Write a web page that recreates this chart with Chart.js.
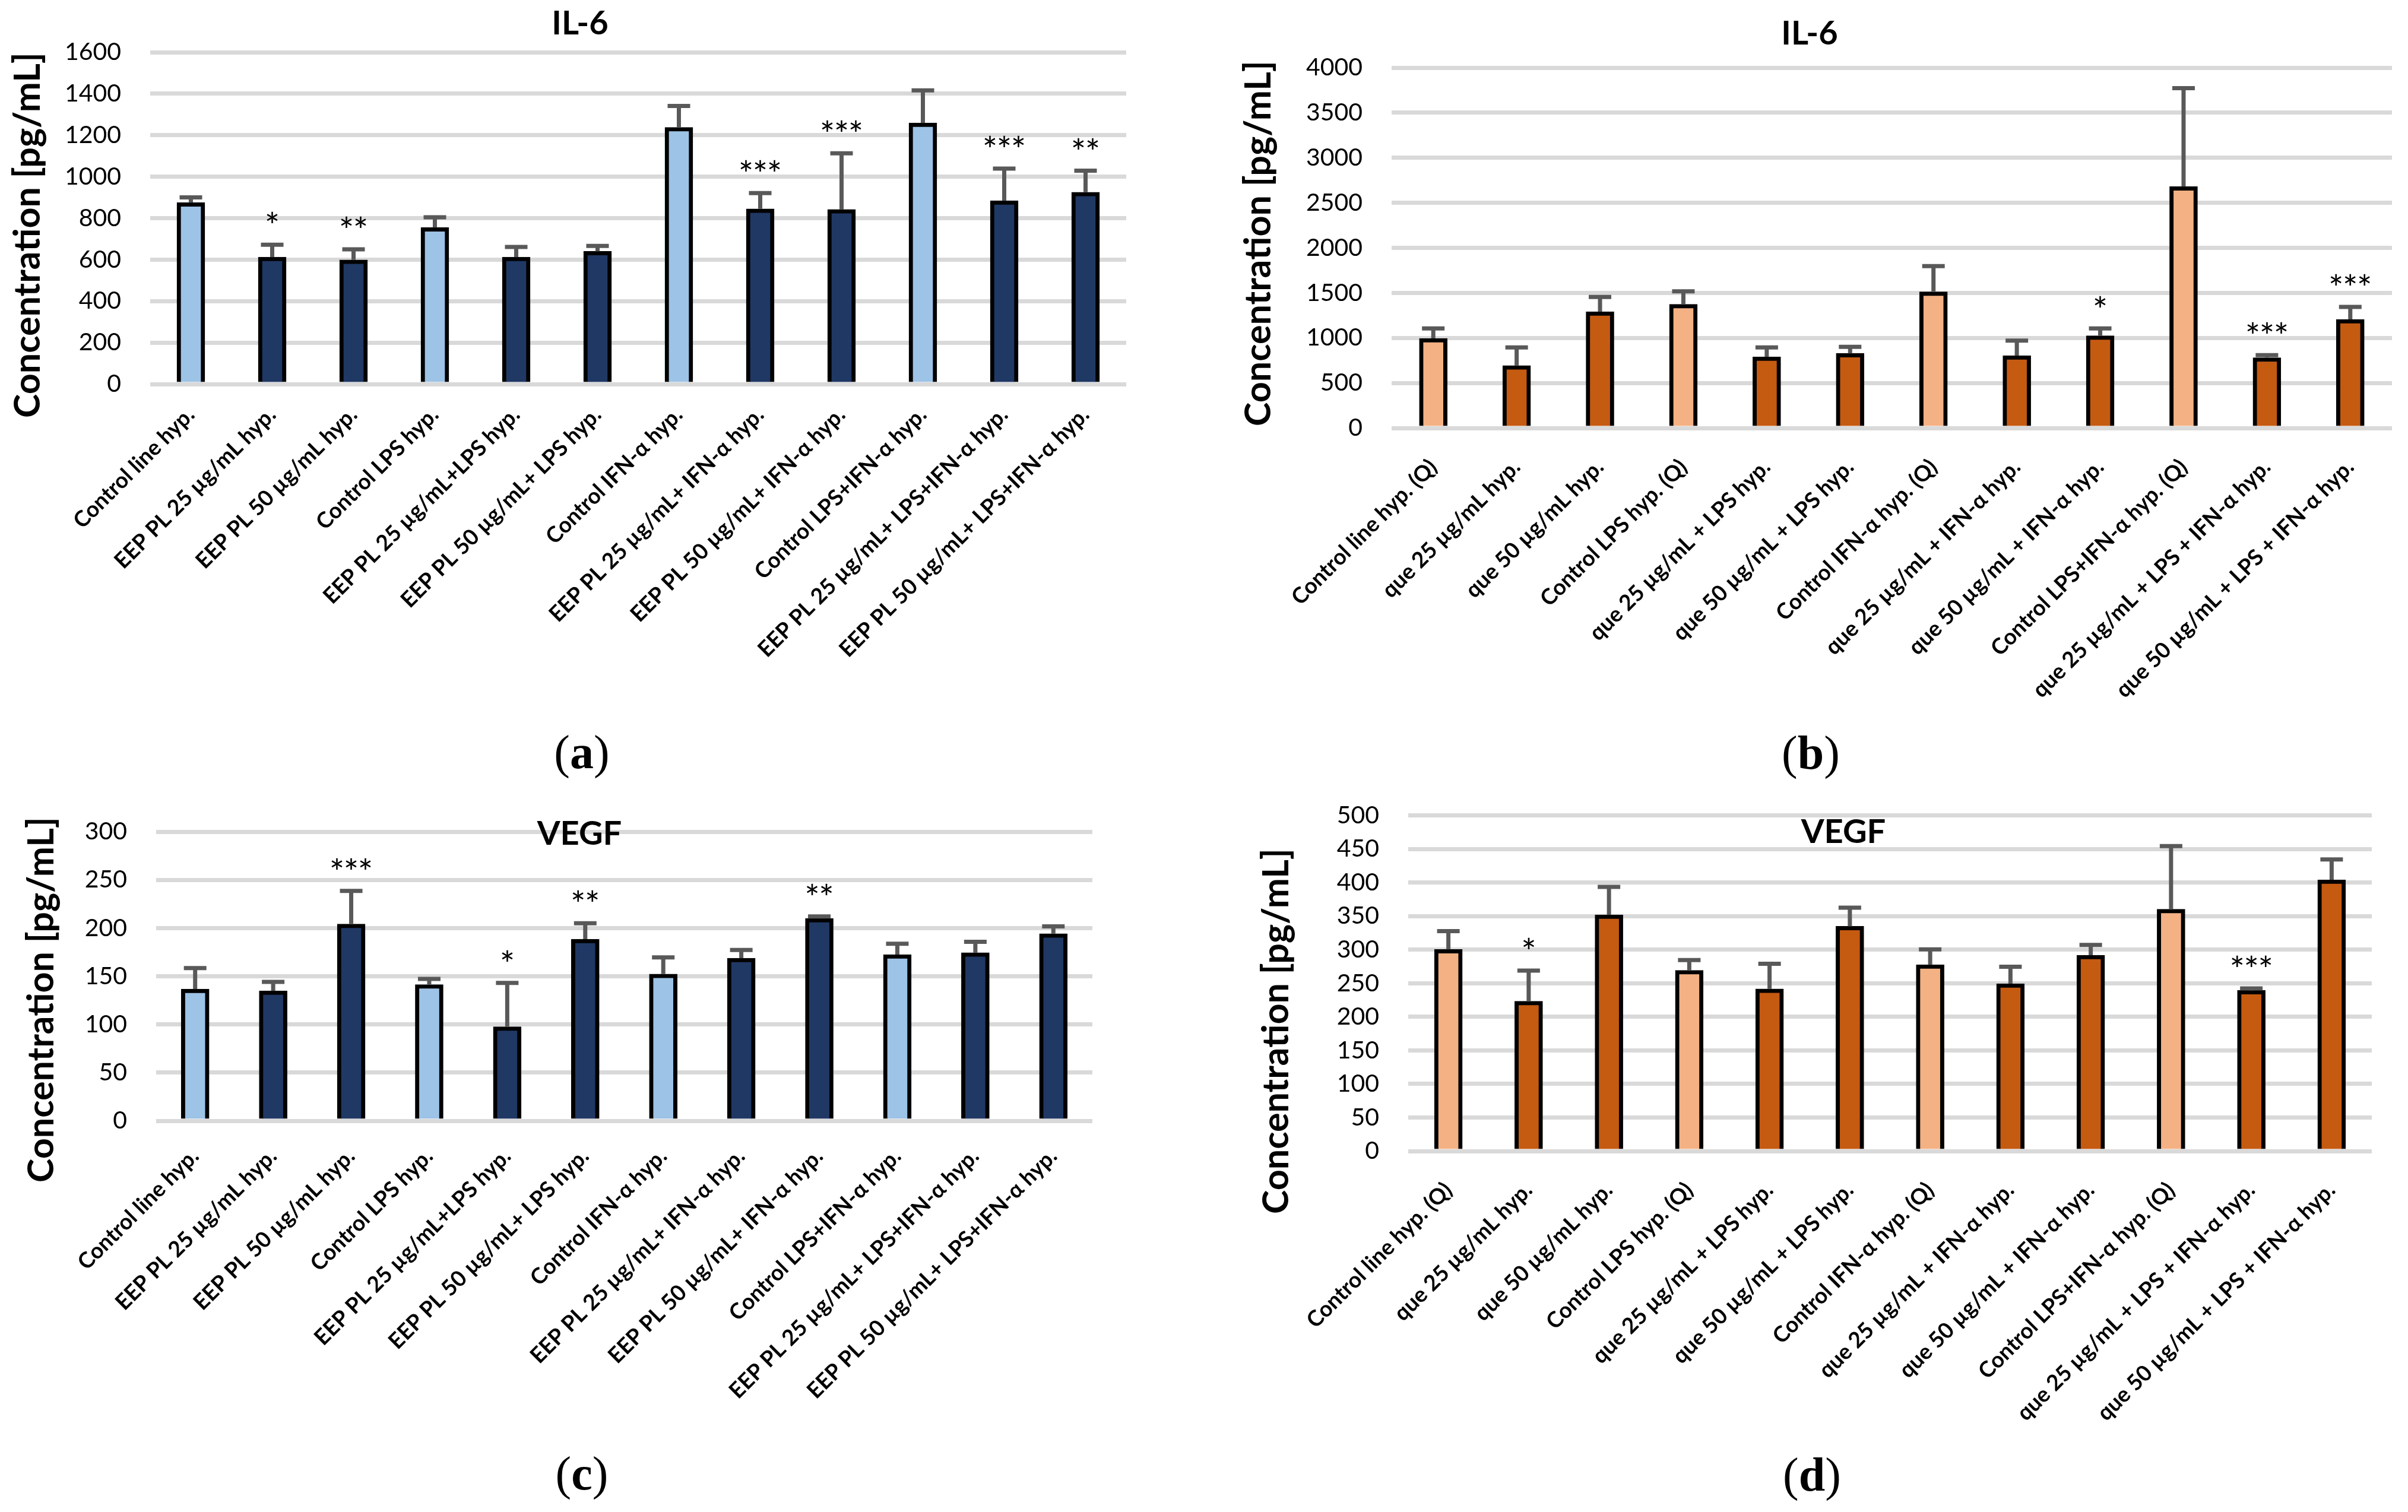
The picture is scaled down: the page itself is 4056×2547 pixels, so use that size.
<!DOCTYPE html>
<html>
<head>
<meta charset="utf-8">
<script src="https://cdn.jsdelivr.net/npm/chart.js@4"></script>
<style>
  html,body{margin:0;padding:0;background:#fff;}
  #page{position:relative;width:4056px;height:2547px;overflow:hidden;background:#fff;}
  #page canvas{position:absolute;}
  .sub{position:absolute;font-family:"Liberation Serif",serif;font-size:80px;line-height:1;transform:translate(-50%,-50%);color:#000;}
</style>
</head>
<body>
<div id="page">
  <canvas id="ca" width="1920" height="1200" style="left:0;top:0"></canvas>
  <canvas id="cb" width="1996" height="1230" style="left:2060px;top:0"></canvas>
  <canvas id="cc" width="1920" height="1227" style="left:0;top:1320px"></canvas>
  <canvas id="cd" width="1996" height="1247" style="left:2060px;top:1300px"></canvas>
  <div class="sub" style="left:980px;top:1267px">(<b>a</b>)</div>
  <div class="sub" style="left:3050px;top:1268px">(<b>b</b>)</div>
  <div class="sub" style="left:980px;top:2482px">(<b>c</b>)</div>
  <div class="sub" style="left:3052px;top:2484px">(<b>d</b>)</div>
</div>
<script>
// categories
const eepLabels = ['Control line hyp.','EEP PL 25 µg/mL hyp.','EEP PL 50 µg/mL hyp.','Control LPS hyp.',
  'EEP PL 25 µg/mL+LPS hyp.','EEP PL 50 µg/mL+ LPS hyp.','Control IFN-α hyp.','EEP PL 25 µg/mL+ IFN-α hyp.',
  'EEP PL 50 µg/mL+ IFN-α hyp.','Control LPS+IFN-α hyp.','EEP PL 25 µg/mL+ LPS+IFN-α hyp.','EEP PL 50 µg/mL+ LPS+IFN-α hyp.'];
const queLabels = ['Control line hyp. (Q)','que 25 µg/mL hyp.','que 50 µg/mL hyp.','Control LPS hyp. (Q)',
  'que 25 µg/mL + LPS hyp.','que 50 µg/mL + LPS hyp.','Control IFN-α hyp. (Q)','que 25 µg/mL + IFN-α hyp.',
  'que 50 µg/mL + IFN-α hyp.','Control LPS+IFN-α hyp. (Q)','que 25 µg/mL + LPS + IFN-α hyp.','que 50 µg/mL + LPS + IFN-α hyp.'];

// (a) IL-6, EEP PL
const il6Eep    = [875, 612, 599, 755, 612, 640, 1238, 845, 842, 1259, 884, 925];
const il6EepSd  = [25, 60, 51, 49, 49, 26, 103, 76, 271, 157, 155, 104];
const il6EepSig = ['', '*', '**', '', '', '', '', '***', '***', '', '***', '**'];
// (b) IL-6, quercetin
const il6Que    = [995, 693, 1291, 1373, 791, 828, 1512, 803, 1024, 2680, 781, 1206];
const il6QueSd  = [110, 201, 164, 145, 103, 73, 286, 167, 81, 1093, 28, 139];
const il6QueSig = ['', '', '', '', '', '', '', '', '*', '', '***', '***'];
// (c) VEGF, EEP PL
const vegfEep    = [136.7, 134.8, 204.1, 141.4, 97.6, 188.5, 152.3, 168.7, 210, 172.5, 174.4, 194.2];
const vegfEepSd  = [21.7, 9.4, 34.4, 5.9, 45.5, 16.5, 17.2, 8.5, 2.1, 11.3, 11.3, 7.5];
const vegfEepSig = ['', '', '***', '', '*', '**', '', '', '**', '', '', ''];
// (d) VEGF, quercetin
const vegfQue    = [300.4, 223.2, 352, 269.3, 241.6, 334.8, 277.5, 249.4, 291.8, 360.3, 239.3, 404.1];
const vegfQueSd  = [27.3, 45.7, 41.6, 15.3, 37.4, 27.7, 22.9, 25.1, 15.3, 94, 3, 30.4];
const vegfQueSig = ['', '*', '', '', '', '', '', '', '', '', '***', ''];

// y axes: [max, step]
const axisA = [1600, 200], axisB = [4000, 500], axisC = [300, 50], axisD = [500, 50];

const BLUE_L = '#9DC3E6', BLUE_D = '#203864', ORNG_L = '#F4B183', ORNG_D = '#C55A11';

// error bars (upper only) + significance stars
const errStars = {
  id: 'errStars',
  afterDatasetsDraw(chart) {
    const ds = chart.data.datasets[0], meta = chart.getDatasetMeta(0), y = chart.scales.y, ctx = chart.ctx;
    ctx.save();
    meta.data.forEach((bar, i) => {
      const top = y.getPixelForValue(ds.data[i]);
      const cap = y.getPixelForValue(ds.data[i] + ds.errors[i]);
      ctx.strokeStyle = '#595959'; ctx.lineWidth = 7; ctx.lineCap = 'butt';
      ctx.beginPath(); ctx.moveTo(bar.x, top); ctx.lineTo(bar.x, cap); ctx.stroke();
      ctx.beginPath(); ctx.moveTo(bar.x - 19, cap); ctx.lineTo(bar.x + 19, cap); ctx.stroke();
      const s = ds.stars[i];
      if (s) {
        ctx.fillStyle = '#000'; ctx.font = '60px Lato'; ctx.textAlign = 'center'; ctx.textBaseline = 'alphabetic';
        const cy = cap - 44;
        for (let k = 0; k < s.length; k++) ctx.fillText('*', bar.x + (k - (s.length - 1) / 2) * 24, cy + 0.57 * 60);
      }
    });
    ctx.restore();
  }
};

// chart title and y-axis title, given in page coordinates
const texts = {
  id: 'texts',
  afterDraw(chart, args, o) {
    const ctx = chart.ctx;
    ctx.save();
    ctx.fillStyle = '#000'; ctx.textAlign = 'center'; ctx.textBaseline = 'middle';
    ctx.font = 'bold 56px Lato';
    ctx.fillText(o.title, o.tx - o.ox, o.ty - o.oy);
    ctx.translate(o.yx - o.ox, o.yy - o.oy); ctx.rotate(-Math.PI / 2);
    ctx.font = 'bold 61px Lato';
    ctx.fillText('Concentration [pg/mL]', 0, 0);
    ctx.restore();
  }
};

function makeChart(id, labels, values, sd, sig, axis, light, dark, box, t) {
  new Chart(document.getElementById(id), {
    type: 'bar',
    data: { labels, datasets: [{
      data: values, errors: sd, stars: sig,
      backgroundColor: labels.map(l => l.startsWith('Control') ? light : dark),
      borderColor: '#000', borderWidth: 7, borderSkipped: 'start', barThickness: 47
    }]},
    options: {
      responsive: false, animation: false, devicePixelRatio: 1,
      layout: { padding: { top: box.top, right: box.right, left: 0, bottom: 0 } },
      plugins: { legend: { display: false }, tooltip: { enabled: false },
        texts: Object.assign({ ox: box.ox, oy: box.oy }, t) },
      scales: {
        x: {
          grid: { display: false }, border: { display: false },
          ticks: { autoSkip: false, minRotation: 45, maxRotation: 45, padding: box.lp, color: '#000',
            font: { family: 'Lato', weight: 'bold', size: 37 } },
          afterFit: s => { s.height = box.xh; }
        },
        y: {
          min: 0, max: axis[0],
          grid: { color: '#D9D9D9', lineWidth: 7, drawTicks: false }, border: { display: false },
          ticks: { stepSize: axis[1], padding: 49, color: '#000', font: { family: 'Lato', size: 41 }, callback: v => v },
          afterFit: s => { s.width = box.yw; }
        }
      }
    },
    plugins: [errStars, texts]
  });
}

makeChart('ca', eepLabels, il6Eep, il6EepSd, il6EepSig, axisA, BLUE_L, BLUE_D,
  { ox: 0, oy: 0, top: 88, right: 23, yw: 253, xh: 553, lp: 22 },
  { title: 'IL-6', tx: 977, ty: 40, yx: 47, yy: 396 });
makeChart('cb', queLabels, il6Que, il6QueSd, il6QueSig, axisB, ORNG_L, ORNG_D,
  { ox: 2060, oy: 0, top: 114, right: 27, yw: 284, xh: 509, lp: 36 },
  { title: 'IL-6', tx: 3048, ty: 57, yx: 2120, yy: 410 });
makeChart('cc', eepLabels, vegfEep, vegfEepSd, vegfEepSig, axisC, BLUE_L, BLUE_D,
  { ox: 0, oy: 1320, top: 81, right: 80, yw: 263, xh: 659, lp: 30 },
  { title: 'VEGF', tx: 976, ty: 1405, yx: 70, yy: 1684 });
makeChart('cd', queLabels, vegfQue, vegfQueSd, vegfQueSig, axisD, ORNG_L, ORNG_D,
  { ox: 2060, oy: 1300, top: 43, right: 61, yw: 312, xh: 608, lp: 36 },
  { title: 'VEGF', tx: 3105, ty: 1402, yx: 2150, yy: 1737 });
</script>
</body>
</html>
